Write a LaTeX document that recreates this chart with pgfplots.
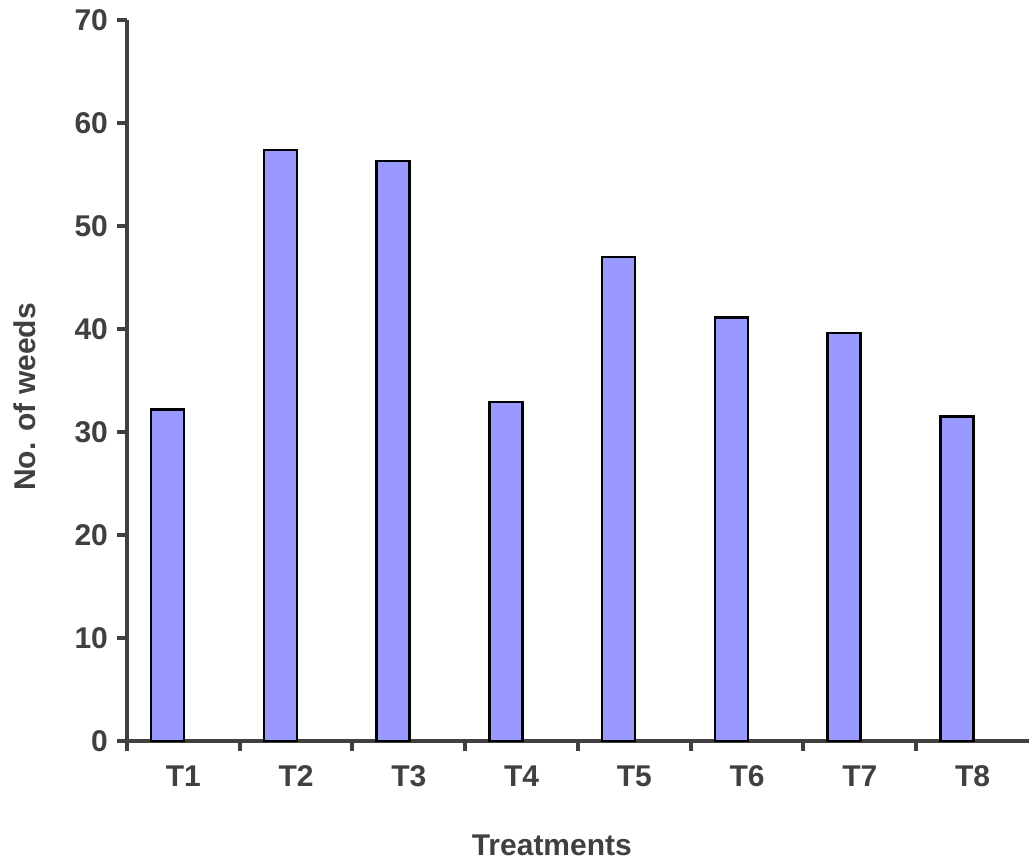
\documentclass[border=0pt]{standalone}
\usepackage{fontspec}
\setmainfont{Liberation Sans}
\usepackage{pgfplots}
\pgfplotsset{compat=1.18}
\definecolor{axisgray}{HTML}{404040}
\definecolor{barblue}{HTML}{9999FF}
\begin{document}
\begin{tikzpicture}
\begin{axis}[
    scale only axis,
    width=451pt, height=360.5pt,
    xmin=0.5, xmax=8.5,
    ymin=0, ymax=70,
    axis lines*=left,
    axis line style={axisgray, line width=2pt},
    every tick/.style={axisgray, line width=2pt},
    tick align=outside,
    major tick length=5pt,
    ytick={0,10,...,70},
    xtick={0.5,1.5,...,7.5},
    xticklabels={},
    extra x ticks={1,...,8},
    extra x tick labels={T1,T2,T3,T4,T5,T6,T7,T8},
    extra x tick style={major tick length=0pt},
    ticklabel style={font=\fontsize{15}{18}\selectfont\bfseries, text=axisgray},
    /pgf/number format/assume math mode=true,
    xticklabel style={text height=11pt, text depth=0pt, yshift=-8pt},
    yticklabel style={xshift=-1pt},
    xlabel={Treatments},
    ylabel={No. of weeds},
    label style={font=\fontsize{15}{18}\selectfont\bfseries, text=axisgray},
    xlabel style={at={(axis description cs:0.471,0)}, anchor=center, yshift=-52pt},
    ylabel style={at={(axis description cs:-0.113,0.477)}, anchor=center},
    clip=false,
]
\addplot[ybar, bar width=16.5pt, bar shift=0pt, fill=barblue, draw=black, line width=1.2pt]
coordinates {
    (0.86,32.2)
    (1.86,57.4)
    (2.86,56.3)
    (3.86,32.9)
    (4.86,47.0)
    (5.86,41.1)
    (6.86,39.6)
    (7.86,31.5)
};
\end{axis}
\pgfresetboundingbox
\path (-63.5pt,-60pt) rectangle (451pt,370.5pt);
\end{tikzpicture}
\end{document}
